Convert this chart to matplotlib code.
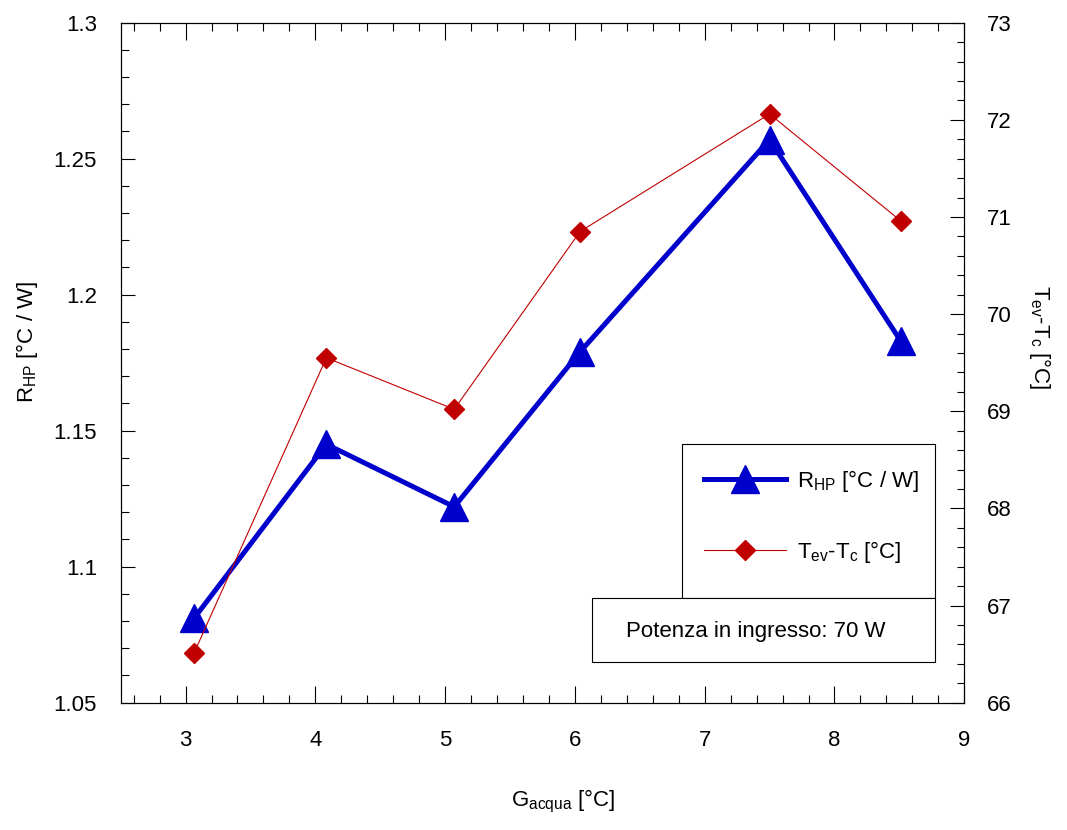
import matplotlib
matplotlib.use("Agg")
import matplotlib.pyplot as plt
from matplotlib.patches import Rectangle
from matplotlib.ticker import MultipleLocator, FixedLocator

plt.rcParams['font.family'] = ['Liberation Sans', 'DejaVu Sans']
plt.rcParams['mathtext.fontset'] = 'custom'
plt.rcParams['mathtext.rm'] = 'Liberation Sans'
plt.rcParams['mathtext.it'] = 'Liberation Sans:italic'
plt.rcParams['font.size'] = 16

# data
g_acqua = [3.065, 4.085, 5.07, 6.04, 7.5, 8.51]
r_hp = [1.081, 1.145, 1.122, 1.179, 1.257, 1.183]
dt_evc = [66.51, 69.55, 69.02, 70.85, 72.06, 70.96]

x_ticks = [3, 4, 5, 6, 7, 8, 9]
x_labels = ['3', '4', '5', '6', '7', '8', '9']
y_ticks = [1.05, 1.1, 1.15, 1.2, 1.25, 1.3]
y_labels = ['1.05', '1.1', '1.15', '1.2', '1.25', '1.3']
y2_ticks = [66, 67, 68, 69, 70, 71, 72, 73]
y2_labels = ['66', '67', '68', '69', '70', '71', '72', '73']

blue = '#0000CC'
red = '#C00000'

fig = plt.figure(figsize=(10.67, 8.3), dpi=100)
ax = fig.add_axes([0.1131, 0.1534, 0.7906, 0.8193])
ax2 = ax.twinx()

l1, = ax.plot(g_acqua, r_hp, color=blue, lw=3.6, marker='^', ms=20,
              mec=blue, mfc=blue, label=r'R$_{\mathrm{HP}}$ [°C / W]')
l2, = ax2.plot(g_acqua, dt_evc, color=red, lw=0.8, marker='D', ms=10,
               mec=red, mfc=red, label=r'T$_{\mathrm{ev}}$-T$_{\mathrm{c}}$ [°C]')

ax.set_xlim(2.5, 9)
ax.set_ylim(1.05, 1.3)
ax2.set_ylim(66, 73)

ax.xaxis.set_major_locator(FixedLocator(x_ticks))
ax.set_xticklabels(x_labels)
ax.xaxis.set_minor_locator(MultipleLocator(0.2))
ax.yaxis.set_major_locator(FixedLocator(y_ticks))
ax.set_yticklabels(y_labels)
ax.yaxis.set_minor_locator(MultipleLocator(0.01))
ax2.yaxis.set_major_locator(FixedLocator(y2_ticks))
ax2.set_yticklabels(y2_labels)
ax2.yaxis.set_minor_locator(MultipleLocator(0.2))

ax.tick_params(axis='x', which='both', direction='in', top=True, width=0.8, pad=20)
ax.tick_params(axis='x', which='major', length=12)
ax.tick_params(axis='x', which='minor', length=6)
ax.tick_params(axis='y', which='both', direction='in', width=0.8, pad=17)
ax.tick_params(axis='y', which='major', length=10)
ax.tick_params(axis='y', which='minor', length=6)
ax2.tick_params(axis='y', which='both', direction='in', width=0.8, pad=16)
ax2.tick_params(axis='y', which='major', length=10)
ax2.tick_params(axis='y', which='minor', length=5)

for a in (ax, ax2):
    for s in a.spines.values():
        s.set_linewidth(0.8)

ax.set_xlabel(r'G$_{\mathrm{acqua}}$ [°C]')
ax.xaxis.set_label_coords(0.525, -0.125)
ax.set_ylabel(r'R$_{\mathrm{HP}}$ [°C / W]')
ax.yaxis.set_label_coords(-0.096, 0.53)
ax2.set_ylabel(r'T$_{\mathrm{ev}}$-T$_{\mathrm{c}}$ [°C]', rotation=-90, va='bottom')
ax2.yaxis.set_label_coords(1.074, 0.537)

# boxes for legend and note
ax2.add_patch(Rectangle((0.665, 0.154), 0.3003, 0.2264, transform=ax2.transAxes,
                        fill=True, facecolor='white', edgecolor='black', lw=0.8, zorder=5))
ax2.add_patch(Rectangle((0.5583, 0.0594), 0.407, 0.0946, transform=ax2.transAxes,
                        fill=True, facecolor='white', edgecolor='black', lw=0.8, zorder=5))
ax2.text(0.753, 0.104, 'Potenza in ingresso: 70 W', transform=ax2.transAxes,
         ha='center', va='center', fontsize=16, zorder=6)

leg = ax2.legend(handles=[l1, l2], loc='upper left', bbox_to_anchor=(0.6915, 0.345),
                 frameon=False, handlelength=3.7, labelspacing=2.0, borderpad=0,
                 borderaxespad=0, handletextpad=0.5, fontsize=16, numpoints=1)
leg.set_zorder(7)

fig.savefig('out.png', dpi=100)
